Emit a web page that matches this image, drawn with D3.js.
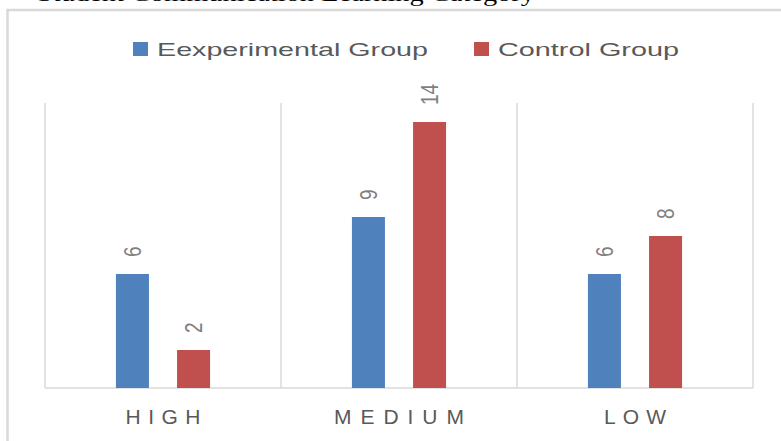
<!DOCTYPE html>
<html>
<head>
<meta charset="utf-8">
<script src="https://cdn.jsdelivr.net/npm/d3@7"></script>
<style>
  html, body { margin: 0; padding: 0; background: #fff; }
  svg { display: block; }
</style>
</head>
<body>
<svg id="chart" width="781" height="441"></svg>
<script>
(function () {
  "use strict";

  // chart values
  const categories = ["HIGH", "MEDIUM", "LOW"];
  const seriesNames = ["Eexperimental Group", "Control Group"];
  const experimental = [6, 9, 6];
  const control = [2, 14, 8];
  const titleText = "Student Communication Learning Category";

  const colors = ["#4f81bd", "#c0504d"];
  const grid = "#d9d9d9";
  const textGrey = "#595959";

  const svg = d3.select("#chart");
  const W = 781, H = 441;
  const plot = { left: 45, right: 753, top: 103, bottom: 388 };

  // caption above the frame, mostly cropped away in the source
  svg.append("text")
    .attr("x", 37)
    .attr("y", 1)
    .attr("font-family", "Liberation Serif, serif")
    .attr("font-size", 21)
    .attr("fill", "#000")
    .attr("textLength", 498)
    .attr("lengthAdjust", "spacingAndGlyphs")
    .text(titleText);

  // chart frame (runs off right and bottom)
  svg.append("rect")
    .attr("x", 7.5).attr("y", 10)
    .attr("width", W + 20).attr("height", H + 20)
    .attr("fill", "none")
    .attr("stroke", grid)
    .attr("stroke-width", 2.5);

  const x0 = d3.scaleBand()
    .domain(categories)
    .range([plot.left, plot.right])
    .padding(0);

  const x1 = d3.scaleBand()
    .domain(seriesNames)
    .range([0, x0.bandwidth()])
    .paddingInner(0.46)
    .paddingOuter(1.16);

  const y = d3.scaleLinear()
    .domain([0, 15])
    .range([plot.bottom, plot.top]);

  // vertical category gridlines
  const edges = categories.map((c) => x0(c)).concat([plot.right]);
  svg.append("g")
    .selectAll("line")
    .data(edges)
    .join("line")
    .attr("x1", (d) => d).attr("x2", (d) => d)
    .attr("y1", plot.top).attr("y2", plot.bottom)
    .attr("stroke", grid)
    .attr("stroke-width", 1.5);

  // axis baseline
  svg.append("line")
    .attr("x1", plot.left).attr("x2", plot.right)
    .attr("y1", plot.bottom).attr("y2", plot.bottom)
    .attr("stroke", grid)
    .attr("stroke-width", 1.5);

  const rows = categories.map((c, i) => ({
    cat: c,
    vals: [experimental[i], control[i]]
  }));

  const groups = svg.append("g")
    .selectAll("g")
    .data(rows)
    .join("g")
    .attr("transform", (d) => `translate(${x0(d.cat)},0)`);

  const cells = groups.selectAll("g")
    .data((d) => d.vals.map((v, j) => ({ name: seriesNames[j], v: v, j: j })))
    .join("g");

  cells.append("rect")
    .attr("x", (d) => x1(d.name))
    .attr("y", (d) => y(d.v))
    .attr("width", x1.bandwidth())
    .attr("height", (d) => y(0) - y(d.v))
    .attr("fill", (d) => colors[d.j]);

  // rotated value labels
  cells.append("text")
    .attr("transform", (d) =>
      `translate(${x1(d.name) + x1.bandwidth() / 2},${y(d.v) - 17}) scale(1.3,1) rotate(-90)`)
    .attr("dy", "0.35em")
    .attr("font-family", "Liberation Sans, Arial, sans-serif")
    .attr("font-size", 19)
    .attr("fill", "#7f7f7f")
    .text((d) => d.v);

  // category labels
  const catWidths = { HIGH: 75, MEDIUM: 130, LOW: 62 };
  svg.append("g")
    .selectAll("text")
    .data(categories)
    .join("text")
    .attr("x", (d) => x0(d) + x0.bandwidth() / 2)
    .attr("y", 424)
    .attr("text-anchor", "middle")
    .attr("font-family", "Liberation Sans, Arial, sans-serif")
    .attr("font-size", 21)
    .attr("fill", textGrey)
    .attr("textLength", (d) => catWidths[d])
    .attr("lengthAdjust", "spacing")
    .text((d) => d);

  // legend
  const legendItems = [
    { name: seriesNames[0], sx: 133, tx: 157, tw: 271 },
    { name: seriesNames[1], sx: 474, tx: 498, tw: 181 }
  ];
  const legend = svg.append("g")
    .selectAll("g")
    .data(legendItems)
    .join("g");
  legend.append("rect")
    .attr("x", (d) => d.sx).attr("y", 42)
    .attr("width", 15).attr("height", 14)
    .attr("fill", (d, i) => colors[i]);
  legend.append("text")
    .attr("x", (d) => d.tx)
    .attr("y", 56)
    .attr("font-family", "Liberation Sans, Arial, sans-serif")
    .attr("font-size", 19)
    .attr("fill", textGrey)
    .attr("textLength", (d) => d.tw)
    .attr("lengthAdjust", "spacingAndGlyphs")
    .text((d) => d.name);
})();
</script>
</body>
</html>
